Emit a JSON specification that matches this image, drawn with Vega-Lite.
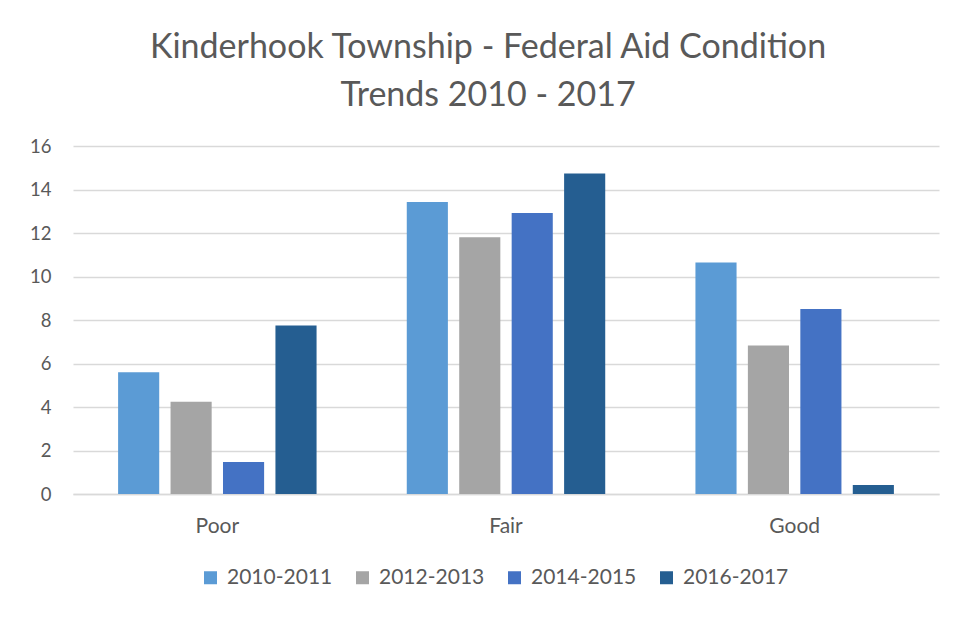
{
  "$schema": "https://vega.github.io/schema/vega-lite/v6.json",
  "width": 866,
  "height": 348,
  "autosize": {"type": "none"},
  "padding": {"left": 73, "top": 146, "right": 29, "bottom": 123},
  "background": "white",
  "title": {
    "text": ["Kinderhook Township - Federal Aid Condition", "Trends 2010 - 2017"],
    "font": "Lato",
    "fontSize": 34,
    "fontWeight": "normal",
    "color": "#595959",
    "anchor": "middle",
    "dx": -18,
    "offset": 24,
    "lineHeight": 48
  },
  "data": {
    "values": [
      {"condition": "Poor", "period": "2010-2011", "value": 5.6},
      {"condition": "Poor", "period": "2012-2013", "value": 4.24},
      {"condition": "Poor", "period": "2014-2015", "value": 1.47},
      {"condition": "Poor", "period": "2016-2017", "value": 7.75},
      {"condition": "Fair", "period": "2010-2011", "value": 13.43},
      {"condition": "Fair", "period": "2012-2013", "value": 11.8},
      {"condition": "Fair", "period": "2014-2015", "value": 12.92},
      {"condition": "Fair", "period": "2016-2017", "value": 14.73},
      {"condition": "Good", "period": "2010-2011", "value": 10.64},
      {"condition": "Good", "period": "2012-2013", "value": 6.83},
      {"condition": "Good", "period": "2014-2015", "value": 8.51},
      {"condition": "Good", "period": "2016-2017", "value": 0.41}
    ]
  },
  "mark": {"type": "bar"},
  "encoding": {
    "x": {
      "field": "condition",
      "type": "nominal",
      "sort": ["Poor", "Fair", "Good"],
      "scale": {"paddingInner": 0.3125, "paddingOuter": 0.15625},
      "axis": {
        "title": null,
        "labelAngle": 0,
        "labelFont": "Lato",
        "labelFontSize": 21,
        "labelColor": "#595959",
        "labelPadding": 21,
        "ticks": false,
        "domainColor": "#D9D9D9",
        "domainWidth": 1.5
      }
    },
    "xOffset": {
      "field": "period",
      "type": "nominal",
      "scale": {"paddingInner": 0.216, "paddingOuter": 0}
    },
    "y": {
      "field": "value",
      "type": "quantitative",
      "scale": {"domain": [0, 16], "nice": false},
      "axis": {
        "title": null,
        "values": [0, 2, 4, 6, 8, 10, 12, 14, 16],
        "labelFont": "Lato",
        "labelFontSize": 18.5,
        "labelColor": "#595959",
        "labelPadding": 22,
        "ticks": false,
        "domain": false,
        "gridColor": "#D9D9D9",
        "gridWidth": 1.5
      }
    },
    "color": {
      "field": "period",
      "type": "nominal",
      "scale": {
        "domain": ["2010-2011", "2012-2013", "2014-2015", "2016-2017"],
        "range": ["#5B9BD5", "#A5A5A5", "#4472C4", "#255E91"]
      },
      "legend": {
        "title": null,
        "orient": "none",
        "legendX": 127,
        "legendY": 421,
        "direction": "horizontal",
        "columns": 4,
        "symbolType": "square",
        "symbolSize": 169,
        "symbolStrokeWidth": 0,
        "labelFont": "Lato",
        "labelFontSize": 21,
        "labelColor": "#595959",
        "labelOffset": 6,
        "columnPadding": 19,
        "labelLimit": 200
      }
    }
  },
  "config": {
    "view": {"stroke": null}
  }
}
